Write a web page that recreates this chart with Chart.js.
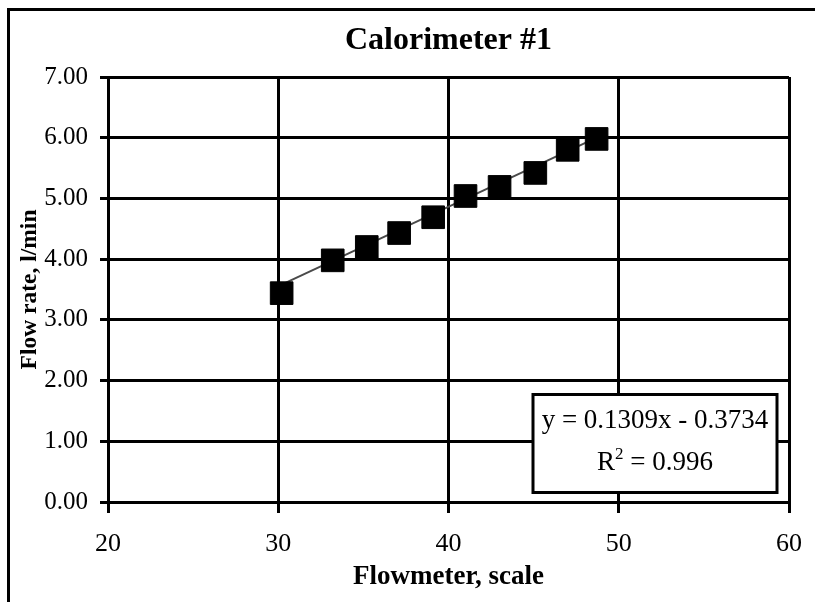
<!DOCTYPE html>
<html>
<head>
<meta charset="utf-8">
<title>Calorimeter #1</title>
<script src="https://cdn.jsdelivr.net/npm/chart.js@4/dist/chart.umd.min.js"></script>
<style>
  html, body { margin: 0; padding: 0; background: #fff; }
  canvas { display: block; }
</style>
</head>
<body>
<canvas id="chart" width="815" height="602"></canvas>
<script>
// Flowmeter readings and measured flow rates
const flowmeterScale = [30.2, 33.2, 35.2, 37.1, 39.1, 41.0, 43.0, 45.1, 47.0, 48.7];
const flowRate = [3.44, 3.98, 4.20, 4.43, 4.69, 5.04, 5.19, 5.42, 5.80, 5.98];

// Linear trendline coefficients
const trendSlope = 0.1309;
const trendIntercept = -0.3734;
const trendR2 = 0.996;

// Axis ranges and ticks
const xTicks = [20, 30, 40, 50, 60];
const yTicks = [0, 1, 2, 3, 4, 5, 6, 7];

const chartTitle = 'Calorimeter #1';
const xTitle = 'Flowmeter, scale';
const yTitle = 'Flow rate, l/min';

const SERIF = '"Liberation Serif", "Times New Roman", serif';

const points = flowmeterScale.map((x, i) => ({ x: x, y: flowRate[i] }));
const xFirst = flowmeterScale[0];
const xLast = flowmeterScale[flowmeterScale.length - 1];
const trendPoints = [
  { x: xFirst, y: trendSlope * xFirst + trendIntercept },
  { x: xLast, y: trendSlope * xLast + trendIntercept }
];

const fmt = (v, d) => v.toFixed(d);
const eqText = 'y = ' + fmt(trendSlope, 4) + 'x ' + (trendIntercept < 0 ? '- ' : '+ ') + fmt(Math.abs(trendIntercept), 4);

// White page and outer frame
const frame = {
  id: 'frame',
  beforeDraw(chart) {
    const ctx = chart.ctx;
    ctx.save();
    ctx.fillStyle = '#fff';
    ctx.fillRect(0, 0, chart.width, chart.height);
    ctx.restore();
  },
  afterDraw(chart) {
    const ctx = chart.ctx;
    ctx.save();
    ctx.strokeStyle = '#000';
    ctx.lineWidth = 3;
    ctx.strokeRect(8.5, 9.5, chart.width + 40, chart.height + 40);
    ctx.restore();
  }
};

// Trendline equation box
const equationBox = {
  id: 'equationBox',
  afterDatasetsDraw(chart) {
    const ctx = chart.ctx;
    const a = chart.chartArea;
    const w = 244, h = 98;
    const right = a.right - 12;
    const bottom = a.bottom - 9.5;
    const left = right - w, top = bottom - h;
    ctx.save();
    ctx.fillStyle = '#fff';
    ctx.fillRect(left, top, w, h);
    ctx.strokeStyle = '#000';
    ctx.lineWidth = 3;
    ctx.strokeRect(left, top, w, h);

    const cx = left + w / 2;
    ctx.fillStyle = '#000';
    ctx.textBaseline = 'alphabetic';
    ctx.font = '27px ' + SERIF;
    ctx.textAlign = 'center';
    ctx.fillText(eqText, cx, top + 33);

    // R² line, with a raised exponent
    const r = 'R';
    const rest = ' = ' + fmt(trendR2, 3);
    ctx.font = '27px ' + SERIF;
    const wR = ctx.measureText(r).width;
    const wRest = ctx.measureText(rest).width;
    ctx.font = '17px ' + SERIF;
    const wSup = ctx.measureText('2').width;
    const total = wR + wSup + wRest;
    let x = cx - total / 2;
    const base = top + 75;
    ctx.textAlign = 'left';
    ctx.font = '27px ' + SERIF;
    ctx.fillText(r, x, base);
    x += wR;
    ctx.font = '17px ' + SERIF;
    ctx.fillText('2', x, base - 11);
    x += wSup;
    ctx.font = '27px ' + SERIF;
    ctx.fillText(rest, x, base);
    ctx.restore();
  }
};

new Chart(document.getElementById('chart'), {
  type: 'scatter',
  data: {
    datasets: [
      {
        label: 'Measured',
        data: points,
        showLine: false,
        pointStyle: 'rect',
        pointRadius: 16,
        pointHoverRadius: 16,
        backgroundColor: '#000',
        borderColor: '#000',
        borderWidth: 1,
        order: 1
      },
      {
        label: 'Linear fit',
        type: 'line',
        data: trendPoints,
        showLine: true,
        borderColor: '#4a4a4a',
        borderWidth: 2,
        pointRadius: 0,
        fill: false,
        order: 2
      }
    ]
  },
  options: {
    responsive: false,
    animation: false,
    devicePixelRatio: 1,
    layout: { padding: { left: 0, right: 26, top: 0, bottom: 0 } },
    plugins: {
      legend: { display: false },
      tooltip: { enabled: false },
      title: {
        display: true,
        fullSize: false,
        text: chartTitle,
        color: '#000',
        font: { family: SERIF, size: 32, weight: 'bold', lineHeight: 1.2 },
        padding: { top: 22, bottom: 16.6 }
      }
    },
    scales: {
      x: {
        type: 'linear',
        min: xTicks[0],
        max: xTicks[xTicks.length - 1],
        afterBuildTicks(scale) { scale.ticks = xTicks.map(v => ({ value: v })); },
        afterFit(scale) { scale.height = 100; },
        grid: { color: '#000', lineWidth: 3, tickLength: 11, tickColor: '#000', tickWidth: 3 },
        border: { color: '#000', width: 3 },
        ticks: {
          color: '#000',
          padding: 12,
          maxRotation: 0,
          font: { family: SERIF, size: 26, lineHeight: 1.5 }
        },
        title: {
          display: true,
          text: xTitle,
          color: '#000',
          font: { family: SERIF, size: 27, weight: 'bold', lineHeight: 1.2 },
          padding: { top: 0, bottom: 9 }
        }
      },
      y: {
        type: 'linear',
        min: yTicks[0],
        max: yTicks[yTicks.length - 1],
        afterBuildTicks(scale) { scale.ticks = yTicks.map(v => ({ value: v })); },
        afterFit(scale) { scale.width = 108; },
        grid: { color: '#000', lineWidth: 3, tickLength: 8, tickColor: '#000', tickWidth: 3 },
        border: { color: '#000', width: 3 },
        ticks: {
          color: '#000',
          padding: 12,
          font: { family: SERIF, size: 25 },
          callback: (v) => Number(v).toFixed(2)
        },
        title: {
          display: true,
          text: yTitle,
          color: '#000',
          font: { family: SERIF, size: 23.5, weight: 'bold', lineHeight: 1.2 },
          padding: { top: 16, bottom: 0 }
        }
      }
    }
  },
  plugins: [frame, equationBox]
});
</script>
</body>
</html>
